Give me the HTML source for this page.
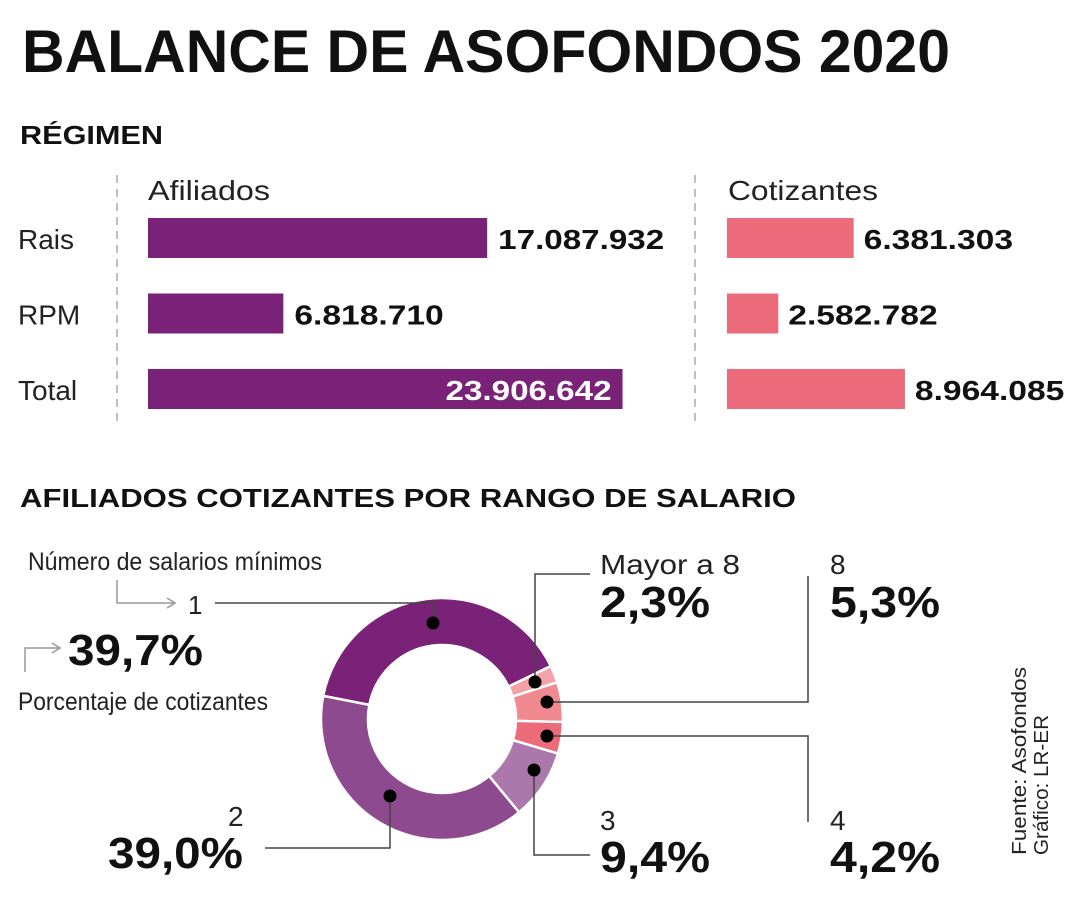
<!DOCTYPE html>
<html><head><meta charset="utf-8"><style>
html,body{margin:0;padding:0;background:#fff;}
svg{display:block;font-family:"Liberation Sans",sans-serif;}
</style></head><body>
<svg id="chart" width="1080" height="900" viewBox="0 0 1080 900">
<text x="22" y="72" font-size="60" font-weight="bold" textLength="928" lengthAdjust="spacingAndGlyphs" fill="#111">BALANCE DE ASOFONDOS 2020</text>
<text x="20" y="144" font-size="26" font-weight="bold" textLength="143" lengthAdjust="spacingAndGlyphs" fill="#111">RÉGIMEN</text>
<line x1="117" y1="175" x2="117" y2="425" stroke="#aaa" stroke-width="1.5" stroke-dasharray="8,6"/>
<line x1="695" y1="175" x2="695" y2="425" stroke="#aaa" stroke-width="1.5" stroke-dasharray="8,6"/>
<text x="148" y="200" font-size="28" textLength="122" lengthAdjust="spacingAndGlyphs" fill="#222">Afiliados</text>
<text x="728" y="200" font-size="28" textLength="150" lengthAdjust="spacingAndGlyphs" fill="#222">Cotizantes</text>
<g id="bars"></g>
<text x="20" y="507" font-size="26" font-weight="bold" textLength="776" lengthAdjust="spacingAndGlyphs" fill="#111">AFILIADOS COTIZANTES POR RANGO DE SALARIO</text>
<text x="28" y="570" font-size="25" textLength="294" lengthAdjust="spacingAndGlyphs" fill="#222">Número de salarios mínimos</text>
<path d="M117,580 V603 H175 M167,598 L175,603 L167,608" fill="none" stroke="#999" stroke-width="1.5"/>
<path d="M25,672 V648 H60 M52,643 L60,648 L52,653" fill="none" stroke="#999" stroke-width="1.5"/>
<text x="18" y="710" font-size="25" textLength="250" lengthAdjust="spacingAndGlyphs" fill="#222">Porcentaje de cotizantes</text>
<g id="donut"></g>
<g id="leaders" fill="none" stroke="#444" stroke-width="1.5">
<path d="M215,603 H433 V623"/>
<path d="M590,574 H535 V682"/>
<path d="M808,576 V702 H547"/>
<path d="M547,736 H808 V822"/>
<path d="M534,770 V855 H590"/>
<path d="M390,796 V848 H265"/>
</g>
<g id="labels"></g>
<g transform="translate(1026,855) rotate(-90)">
<text x="0" y="0" font-size="20" textLength="188" lengthAdjust="spacingAndGlyphs" fill="#222">Fuente: Asofondos</text>
<text x="0" y="22" font-size="20" textLength="140" lengthAdjust="spacingAndGlyphs" fill="#222">Gráfico: LR-ER</text>
</g>
</svg>
<script>
const rowLabels = ["Rais", "RPM", "Total"];
const afiliados = [17087932, 6818710, 23906642];
const cotizantes = [6381303, 2582782, 8964085];
const afiliadosText = ["17.087.932", "6.818.710", "23.906.642"];
const cotizantesText = ["6.381.303", "2.582.782", "8.964.085"];
const sliceNames = ["1", "Mayor a 8", "8", "4", "3", "2"];
const slicePct = [39.7, 2.3, 5.3, 4.2, 9.4, 39.0];
const slicePctText = ["39,7%", "2,3%", "5,3%", "4,2%", "9,4%", "39,0%"];

const NS = "http://www.w3.org/2000/svg";
function mk(tag, attrs, parent){const e=document.createElementNS(NS,tag);for(const k in attrs)e.setAttribute(k,attrs[k]);parent.appendChild(e);return e;}
const xScale = v => v * 19.85e-6;
const rowY = i => 218 + i * 75.5;
const numW = s => s.length * 16.6;
const bars = document.getElementById("bars");
rowLabels.forEach((lab,i)=>{
  const y = rowY(i);
  const t = mk("text",{x:18,y:y+31,"font-size":28,fill:"#222"},bars); t.textContent=lab;
  
  
  const wa = xScale(afiliados[i]);
  const r = mk("rect",{x:148,y:y,width:wa,height:40,fill:"#7a2277"},bars);
  
  
  const inside = i===2;
  const tw = numW(afiliadosText[i]);
  const va = mk("text",{x: inside ? 148+wa-11-tw : 148+wa+11, y:y+31,"font-size":28,"font-weight":"bold",fill: inside?"#fff":"#111",textLength:tw,lengthAdjust:"spacingAndGlyphs"},bars);
  va.textContent = afiliadosText[i];
  
  
  const wc = xScale(cotizantes[i]);
  const rc = mk("rect",{x:727,y:y,width:wc,height:40,fill:"#ec6b7a"},bars);
  
  
  const vc = mk("text",{x:727+wc+10,y:y+31,"font-size":28,"font-weight":"bold",fill:"#111",textLength:numW(cotizantesText[i]),lengthAdjust:"spacingAndGlyphs"},bars);
  vc.textContent = cotizantesText[i];
  
  
});

const colors = ["#7a2277","#f3a3a8","#f08a90","#ec6b7a","#ab78ab","#8e4a8e"];
const cx=442, cy=719, R=121, r=74;
const donut = document.getElementById("donut");
const total = slicePct.reduce((a,b)=>a+b,0);
let ang = 191*Math.PI/180;
const pt=(rad,a)=>[cx+rad*Math.cos(a), cy+rad*Math.sin(a)];
slicePct.forEach((p,i)=>{
  const a0=ang, a1=ang+p/total*2*Math.PI; ang=a1;
  const large = (a1-a0)>Math.PI?1:0;
  const [x0,y0]=pt(R,a0),[x1,y1]=pt(R,a1),[x2,y2]=pt(r,a1),[x3,y3]=pt(r,a0);
  const path = mk("path",{d:`M${x0},${y0} A${R},${R} 0 ${large} 1 ${x1},${y1} L${x2},${y2} A${r},${r} 0 ${large} 0 ${x3},${y3} Z`,fill:colors[i],stroke:"#fff","stroke-width":2.5},donut);
  
  
});

const labels = document.getElementById("labels");
const dots = [[433,623],[535,682],[547,702],[547,736],[534,770],[390,796]];
dots.forEach((d,i)=>{
  const c = mk("circle",{cx:d[0],cy:d[1],r:6.5,fill:"#000"},labels);
  
  
});
const namePos = [[188,614,26],[600,574,28],[830,574,28],[830,830,28],[600,830,28],[228,826,28]];
const nameW = [0,140,0,0,0,0];
const valPos = [[68,665],[600,617],[830,617],[830,872],[600,872],[108,868]];
sliceNames.forEach((n,i)=>{
  const at = {x:namePos[i][0],y:namePos[i][1],"font-size":namePos[i][2],fill:"#222"};
  if(nameW[i]){at.textLength=nameW[i];at.lengthAdjust="spacingAndGlyphs";}
  const t = mk("text",at,labels);
  t.textContent = n;
  
  
  const txt = slicePctText[i];
  const v = mk("text",{x:valPos[i][0],y:valPos[i][1],"font-size":44,"font-weight":"bold",fill:"#111",textLength: txt.length===5?135:110,lengthAdjust:"spacingAndGlyphs"},labels);
  v.textContent = txt;
  
  
});
</script>
</body></html>
